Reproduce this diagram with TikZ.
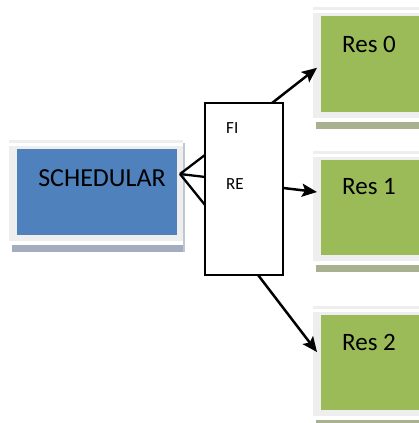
\documentclass[tikz,border=0pt]{standalone}
\usepackage{fontspec}
\setmainfont{Carlito}
\usetikzlibrary{calc,arrows.meta}

\definecolor{schedblue}{HTML}{4F81BD}
\definecolor{resgreen}{HTML}{9BBB59}
\definecolor{framegray}{HTML}{EEEEEE}
\definecolor{blueshade}{HTML}{A3ADBF}
\definecolor{greenshade}{HTML}{A9B28E}

\tikzset{
  plain/.style={rectangle, inner sep=0pt, outer sep=0pt, draw=none, anchor=north west},
  frame/.style={fill=framegray, draw=none},
  hubbox/.style={rectangle, inner sep=0pt, outer sep=0pt, draw=black, line width=1.5pt, fill=white, anchor=north west},
  bigtext/.style={inner sep=0pt, font=\fontsize{26}{30}\selectfont},
  restext/.style={inner sep=0pt, font=\fontsize{25}{30}\selectfont},
  smalltext/.style={inner sep=0pt, anchor=west, font=\fontsize{17}{20}\selectfont},
  fork/.style={line width=2.3pt},
  link/.style={line width=2.5pt, -{Stealth[length=15pt,width=13pt,inset=3pt]}},
}

% a Word-style box: light frame, coloured face, shaded strip underneath
\newcommand{\wordbox}[7]{% name, x, y, w, h, fill, shade
  \fill[frame] (#2-8,#3-9) rectangle (#2+#4+6,#3-6);
  \fill[frame] (#2-8,#3-3) rectangle (#2+#4+6,#3+#5+6);
  \fill[#7] (#2-5,#3+#5+10) rectangle (#2+#4+8,#3+#5+17);
  \fill[#7!70!white] (#2+#4+6,#3-6) rectangle (#2+#4+8,#3+#5+17);
  \node[plain, fill=#6, minimum width=#4pt, minimum height=#5pt] (#1) at (#2,#3) {};
}

\begin{document}
\begin{tikzpicture}[x=1pt, y=-1pt]
  \useasboundingbox (0,0) rectangle (419,423);

  % scheduler
  \wordbox{sched}{17}{149}{160}{86}{schedblue}{blueshade}
  \node[bigtext] (schedtxt) at (102,178) {SCHEDULAR};

  % resources
  \wordbox{res0}{321}{16}{120}{96}{resgreen}{greenshade}
  \wordbox{res1}{321}{160}{120}{95}{resgreen}{greenshade}
  \wordbox{res2}{321}{315}{120}{95}{resgreen}{greenshade}
  \node[restext] (res0txt) at (369,44) {Res 0};
  \node[restext] (res1txt) at (369,187) {Res 1};
  \node[restext] (res2txt) at (369,342) {Res 2};

  % FI / RE block
  \node[hubbox, minimum width=78pt, minimum height=172pt] (hub) at (205,103) {};
  \node[smalltext] (fi) at (226,128) {FI};
  \node[smalltext] (re) at (226,184) {RE};

  % fork from the scheduler to the block
  \coordinate (forkpt) at (180,174);
  \draw[fork] (forkpt) -- ($(hub.north west)!0.302!(hub.south west)$);
  \draw[fork] (forkpt) -- ($(hub.north west)!0.43!(hub.south west)$);
  \draw[fork] (forkpt) -- ($(hub.north west)!0.593!(hub.south west)$);

  % links to the resources
  \draw[link] ($(hub.north west)!0.86!(hub.north east)$) -- ($(res0.north west)!0.54!(res0.south west)+(-4,0)$);
  \draw[link] ($(hub.north east)!0.494!(hub.south east)$) -- ($(res1.north west)!0.337!(res1.south west)+(-4,0)$);
  \draw[link] ($(hub.south west)!0.68!(hub.south east)$) -- ($(res2.north west)!0.39!(res2.south west)+(-4,0)$);
\end{tikzpicture}
\end{document}
